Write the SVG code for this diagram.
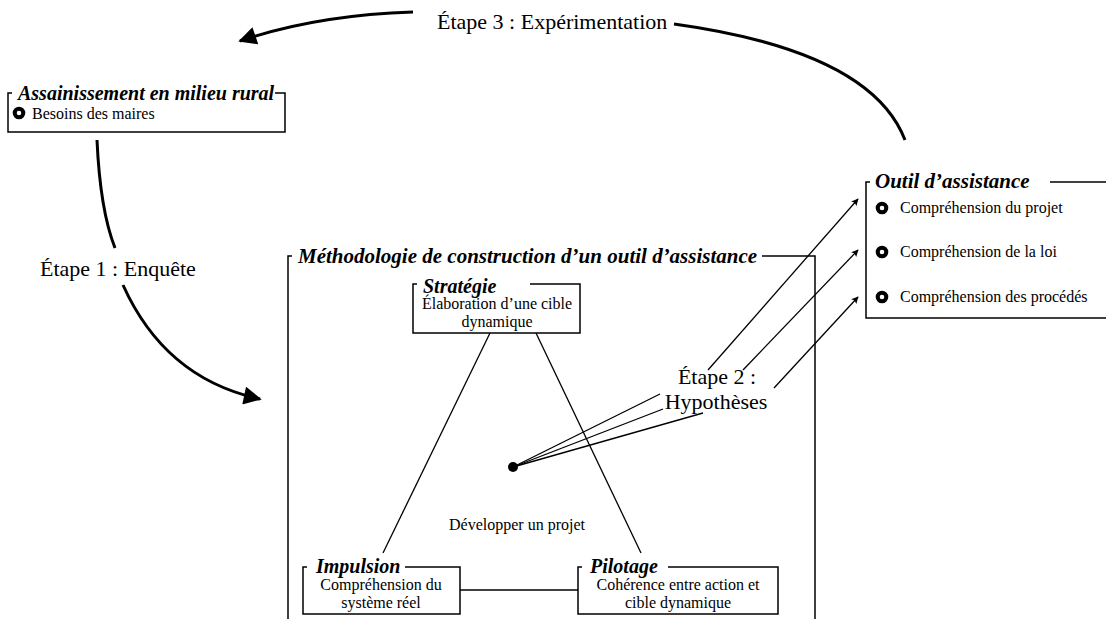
<svg xmlns="http://www.w3.org/2000/svg" width="1106" height="619" viewBox="0 0 1106 619">
<style>
.bg{fill:#fff}
.box{fill:none;stroke:#000;stroke-width:1.5}
.t{font-family:"Liberation Serif","Times New Roman",serif;fill:#000}
.title{font-size:20px;font-weight:bold;font-style:italic}
.big{font-size:21px}
.body{font-size:16px}
.step{font-size:22px}
.curve{fill:none;stroke:#000;stroke-width:3}
.thin{fill:none;stroke:#000;stroke-width:1.3}
.bul{fill:#fff;stroke:#000;stroke-width:4}
</style>
<defs>
<marker id="big" viewBox="0 0 10 10" refX="9" refY="5" markerUnits="userSpaceOnUse" markerWidth="25" markerHeight="18" orient="auto"><path d="M0,0 L10,5 L0,10 z" fill="#000"/></marker>
<marker id="small" viewBox="0 0 10 10" refX="9" refY="5" markerUnits="userSpaceOnUse" markerWidth="10" markerHeight="7" orient="auto"><path d="M0,0 L10,5 L0,10 L2,5 z" fill="#000"/></marker>
</defs>
<rect class="bg" width="1106" height="619"/>

<g id="connectors">
<path class="curve" d="M413,12 C350,14 290,24 240,41" marker-end="url(#big)"/>
<path class="curve" d="M674,24 C790,40 880,75 905,140"/>
<path class="curve" d="M97,140 C99,185 104,220 115,248"/>
<path class="curve" d="M123,285 C150,345 195,385 260,399" marker-end="url(#big)"/>
<line class="thin" x1="490" y1="333" x2="383" y2="553"/>
<line class="thin" x1="536" y1="333" x2="641" y2="553"/>
<line class="thin" x1="460" y1="590" x2="578" y2="590"/>
<line class="thin" x1="513" y1="467" x2="660" y2="394"/>
<line class="thin" x1="513" y1="467" x2="663" y2="409"/>
<line class="thin" x1="513" y1="467" x2="703" y2="413"/>
<line class="thin" x1="708" y1="370" x2="858" y2="199" marker-end="url(#small)"/>
<line class="thin" x1="743" y1="370" x2="858" y2="250" marker-end="url(#small)"/>
<line class="thin" x1="774" y1="388" x2="858" y2="297" marker-end="url(#small)"/>
</g>

<g id="labels">
<text class="t step" x="437" y="29">Étape 3 : Expérimentation</text>
<text class="t step" x="40" y="276">Étape 1 : Enquête</text>
<text class="t step" x="717" y="384" text-anchor="middle">Étape 2 :</text>
<text class="t step" x="716" y="409" text-anchor="middle">Hypothèses</text>
</g>

<g id="assainissement">
<path class="box" d="M12,93 H8 V132 H285 V93 H275"/>
<text class="t title" x="18" y="100">Assainissement en milieu rural</text>
<circle class="bul" cx="19" cy="113" r="4.3"/>
<text class="t body" x="32" y="119">Besoins des maires</text>
</g>

<g id="outil">
<path class="box" d="M870,182 H866 V318 H1106"/>
<line class="box" x1="1050" y1="182" x2="1106" y2="182"/>
<text class="t title big" x="875" y="188">Outil d’assistance</text>
<circle class="bul" cx="882" cy="208" r="4.3"/>
<text class="t body" x="900" y="213">Compréhension du projet</text>
<circle class="bul" cx="882" cy="252" r="4.3"/>
<text class="t body" x="900" y="257">Compréhension de la loi</text>
<circle class="bul" cx="882" cy="297" r="4.3"/>
<text class="t body" x="900" y="302">Compréhension des procédés</text>
</g>

<g id="methodologie">
<path class="box" d="M292,256 H288 V625"/>
<path class="box" d="M762,256 H815 V625"/>
<text class="t title big" x="298" y="263">Méthodologie de construction d’un outil d’assistance</text>
</g>

<g id="strategie">
<path class="box" d="M417,284 H413 V333 H580 V284 H530"/>
<text class="t title" x="423" y="293">Stratégie</text>
<text class="t body" x="497" y="309" text-anchor="middle">Élaboration d’une cible</text>
<text class="t body" x="497" y="327" text-anchor="middle">dynamique</text>
</g>

<g id="projet">
<circle cx="513" cy="467" r="5" fill="#000"/>
<text class="t body" x="517" y="530" text-anchor="middle">Développer un projet</text>
</g>

<g id="impulsion">
<path class="box" d="M307,567 H303 V614 H460 V567 H405"/>
<text class="t title" x="316" y="573">Impulsion</text>
<text class="t body" x="381" y="590" text-anchor="middle">Compréhension du</text>
<text class="t body" x="381" y="608" text-anchor="middle">système réel</text>
</g>

<g id="pilotage">
<path class="box" d="M582,567 H578 V614 H778 V567 H668"/>
<text class="t title" x="590" y="573">Pilotage</text>
<text class="t body" x="678" y="590" text-anchor="middle">Cohérence entre action et</text>
<text class="t body" x="678" y="608" text-anchor="middle">cible dynamique</text>
</g>
</svg>
